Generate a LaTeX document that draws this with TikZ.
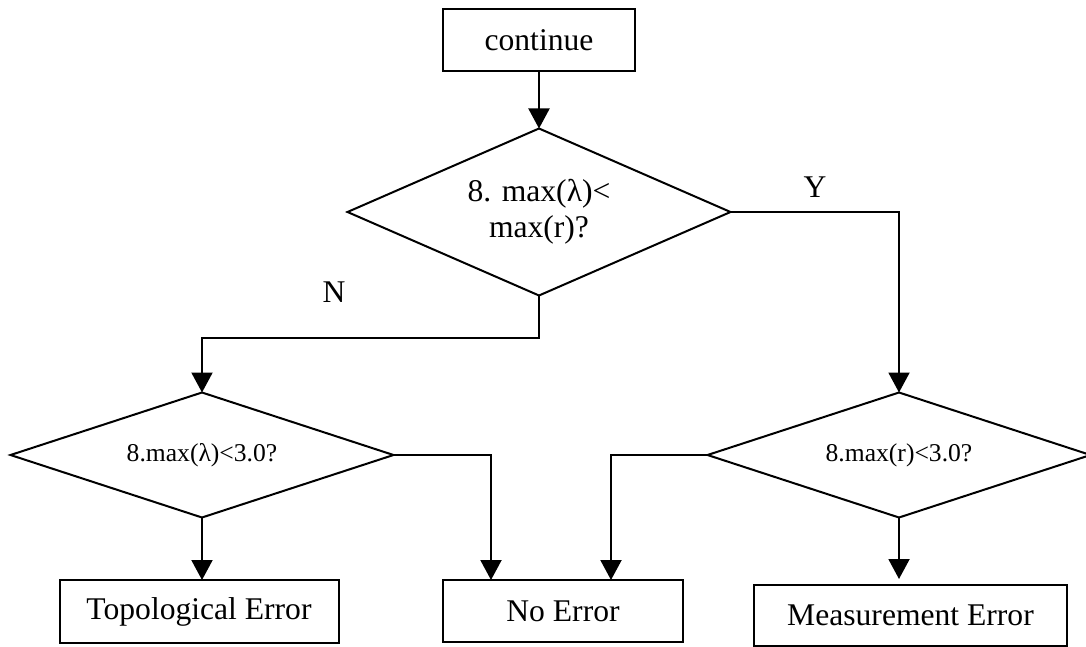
\documentclass[tikz,border=0pt]{standalone}
\usepackage{fontspec}
\setmainfont{Liberation Serif}
\usetikzlibrary{arrows.meta,positioning,shapes.geometric}

\begin{document}
\begin{tikzpicture}[->,>={Triangle[width=10.5pt,length=10pt]},line width=1pt,x=0.5pt,y=-0.5pt]
\tikzstyle{block}=[draw,rectangle,fill=white,text=black,align=center,inner sep=0pt,outer sep=0pt,font=\fontsize{15.8}{18}\selectfont]
\tikzstyle{decision}=[draw,diamond,aspect=3,fill=white,text=black,align=center,inner sep=0pt,outer sep=0pt,minimum width=191.5pt,minimum height=62.5pt,font=\fontsize{12.8}{15}\selectfont]
\tikzstyle{tag}=[font=\fontsize{15.8}{18}\selectfont]

\useasboundingbox (0,0) rectangle (1086,647);

\node[block,minimum width=96pt,minimum height=31pt]		(A) at (539,40)	{continue};
\node[decision,minimum height=83.5pt,font=\fontsize{15.8}{18}\selectfont]	(B) [below of=A,node distance=86pt] {8. max(λ)<\\ max(r)?};
\node[decision]		(C) at (202,455)	{8.max(λ)<3.0?};
\node[decision]		(D) [right of=C,node distance=348.5pt] {8.max(r)<3.0?};
\node[block,minimum width=139.5pt,minimum height=31.5pt]	(E) at (199,611.5)	{Topological Error};
\node[block,minimum width=120pt,minimum height=31pt]	(F) at (563,611)	{No Error};
\node[block,minimum width=156.5pt,minimum height=30.5pt]	(G) at (910.5,615.5)	{Measurement Error};
\node[tag]		(Y) at (815,187)	{Y};
\node[tag]		(N) at (334,292)	{N};

\draw (A) -- (B);
\draw (B.east) -| (D.north);
\draw (B.south) -- ++(0,42) -| (C.north);
\draw (C.east) -| ([xshift=24pt]F.north west);
\draw (D.west) -| ([xshift=-36pt]F.north east);
\draw (C.south) -- (C.south |- E.north);
\draw[shorten >=3pt] (D.south) -- (D.south |- G.north);
    \end{tikzpicture}
\end{document}
